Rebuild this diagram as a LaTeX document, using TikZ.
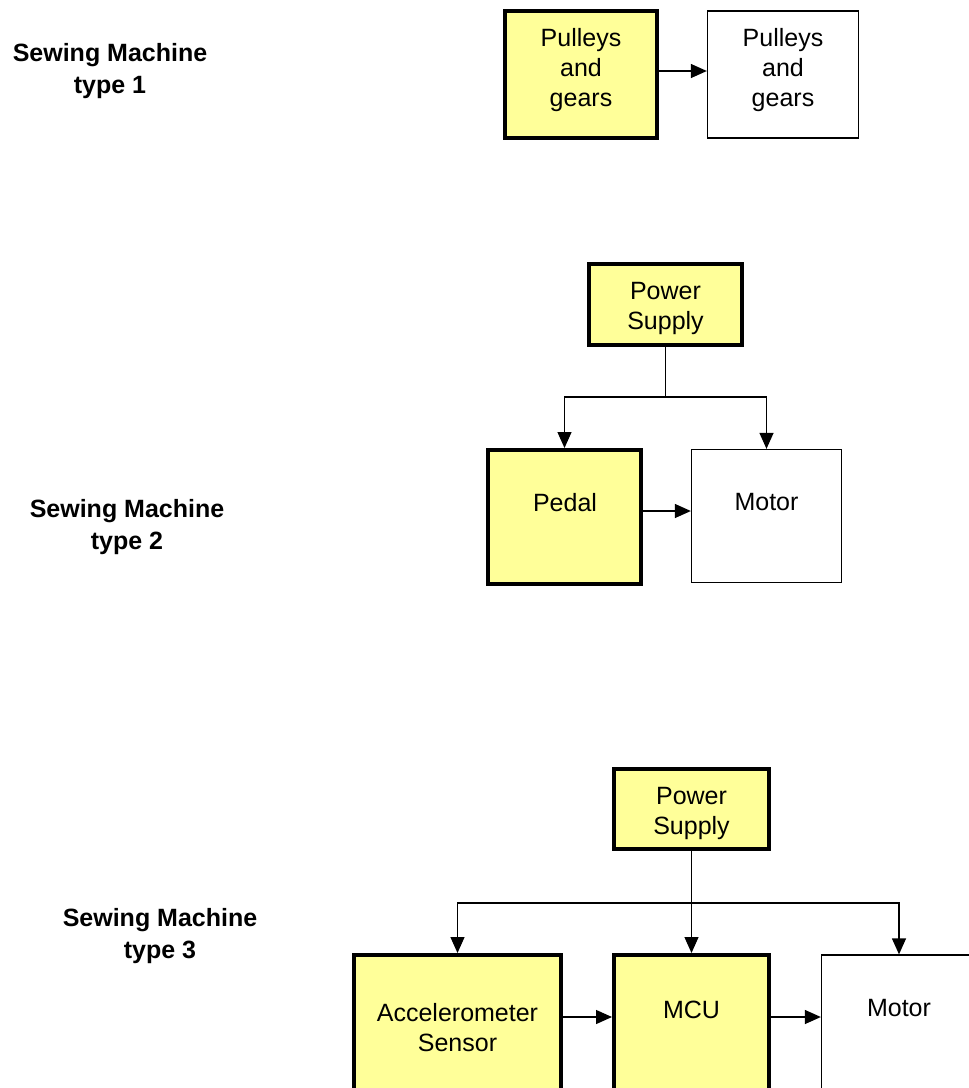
\documentclass[tikz,border=0pt]{standalone}
\usepackage{fontspec}
\setmainfont{Liberation Sans}
\usetikzlibrary{arrows.meta}
\definecolor{padyellow}{RGB}{255,255,153}

\tikzset{
  hot/.style={draw, line width=4pt, fill=padyellow, inner sep=0pt},
  cold/.style={draw, line width=1.3pt, fill=white, inner sep=0pt},
  words/.style={font=\fontsize{25}{30}\selectfont, align=center, inner sep=0pt},
  title/.style={font=\fontsize{25}{32}\selectfont\bfseries, align=center, inner sep=0pt},
  wire/.style={line width=1.3pt},
  feed/.style={line width=1.3pt, -{Triangle[length=16pt,width=14pt]}}
}

\begin{document}
\begin{tikzpicture}[x=1pt,y=-1pt]
\useasboundingbox (0,0) rectangle (969,1088);
\clip (0,0) rectangle (969,1088);

% type 1
\node[title] (lab1) at (110,71) {Sewing Machine\\type 1};
\node[hot, minimum width=152pt, minimum height=127pt] (gearsA) at (581,74.5) {};
\node[cold, minimum width=151pt, minimum height=127pt] (gearsB) at (783,74.5) {};
\node[words] (gearsAtxt) at (581,70) {Pulleys\\and\\gears};
\node[words] (gearsBtxt) at (783,70) {Pulleys\\and\\gears};
\coordinate (row1) at (0,71);
\draw[feed] (gearsA.east |- row1) -- (gearsB.west |- row1);

% type 2
\node[title] (lab2) at (127,527) {Sewing Machine\\type 2};
\node[hot, minimum width=153pt, minimum height=81pt] (supply2) at (665.5,304.5) {};
\node[hot, minimum width=153pt, minimum height=134pt] (pedal) at (564.5,517) {};
\node[cold, minimum width=150pt, minimum height=133pt] (motor2) at (766.5,516) {};
\node[words] (supply2txt) at (665.5,308) {Power\\Supply};
\node[words] (pedaltxt) at (565,503) {Pedal};
\node[words] (motor2txt) at (766.5,502) {Motor};
\coordinate (split2) at (665.5,397);
\draw[wire] (supply2) -- (split2);
\draw[feed] (split2) -| (pedal);
\draw[feed] (split2) -| (motor2);
\coordinate (row2) at (0,511);
\draw[feed] (pedal.east |- row2) -- (motor2.west |- row2);

% type 3
\node[title] (lab3) at (160,936) {Sewing Machine\\type 3};
\node[hot, minimum width=155pt, minimum height=80pt] (supply3) at (691.5,809) {};
\node[hot, minimum width=207pt, minimum height=180pt] (accel) at (457.5,1045) {};
\node[hot, minimum width=155pt, minimum height=180pt] (mcu) at (691.5,1045) {};
\node[cold, minimum width=155pt, minimum height=180pt] (motor3) at (899,1045) {};
\node[words] (supply3txt) at (691.5,813) {Power\\Supply};
\node[words] (acceltxt) at (457.5,1028) {Accelerometer\\Sensor};
\node[words] (mcutxt) at (691.5,1010) {MCU};
\node[words] (motor3txt) at (899,1008) {Motor};
\coordinate (split3) at (691.5,903);
\draw[wire] (supply3) -- (split3);
\draw[feed] (split3) -| (accel);
\draw[feed] (split3) -- (mcu);
\draw[feed] (split3) -| (motor3);
\coordinate (row3) at (0,1017);
\draw[feed] (accel.east |- row3) -- (mcu.west |- row3);
\draw[feed] (mcu.east |- row3) -- (motor3.west |- row3);
\end{tikzpicture}
\end{document}
